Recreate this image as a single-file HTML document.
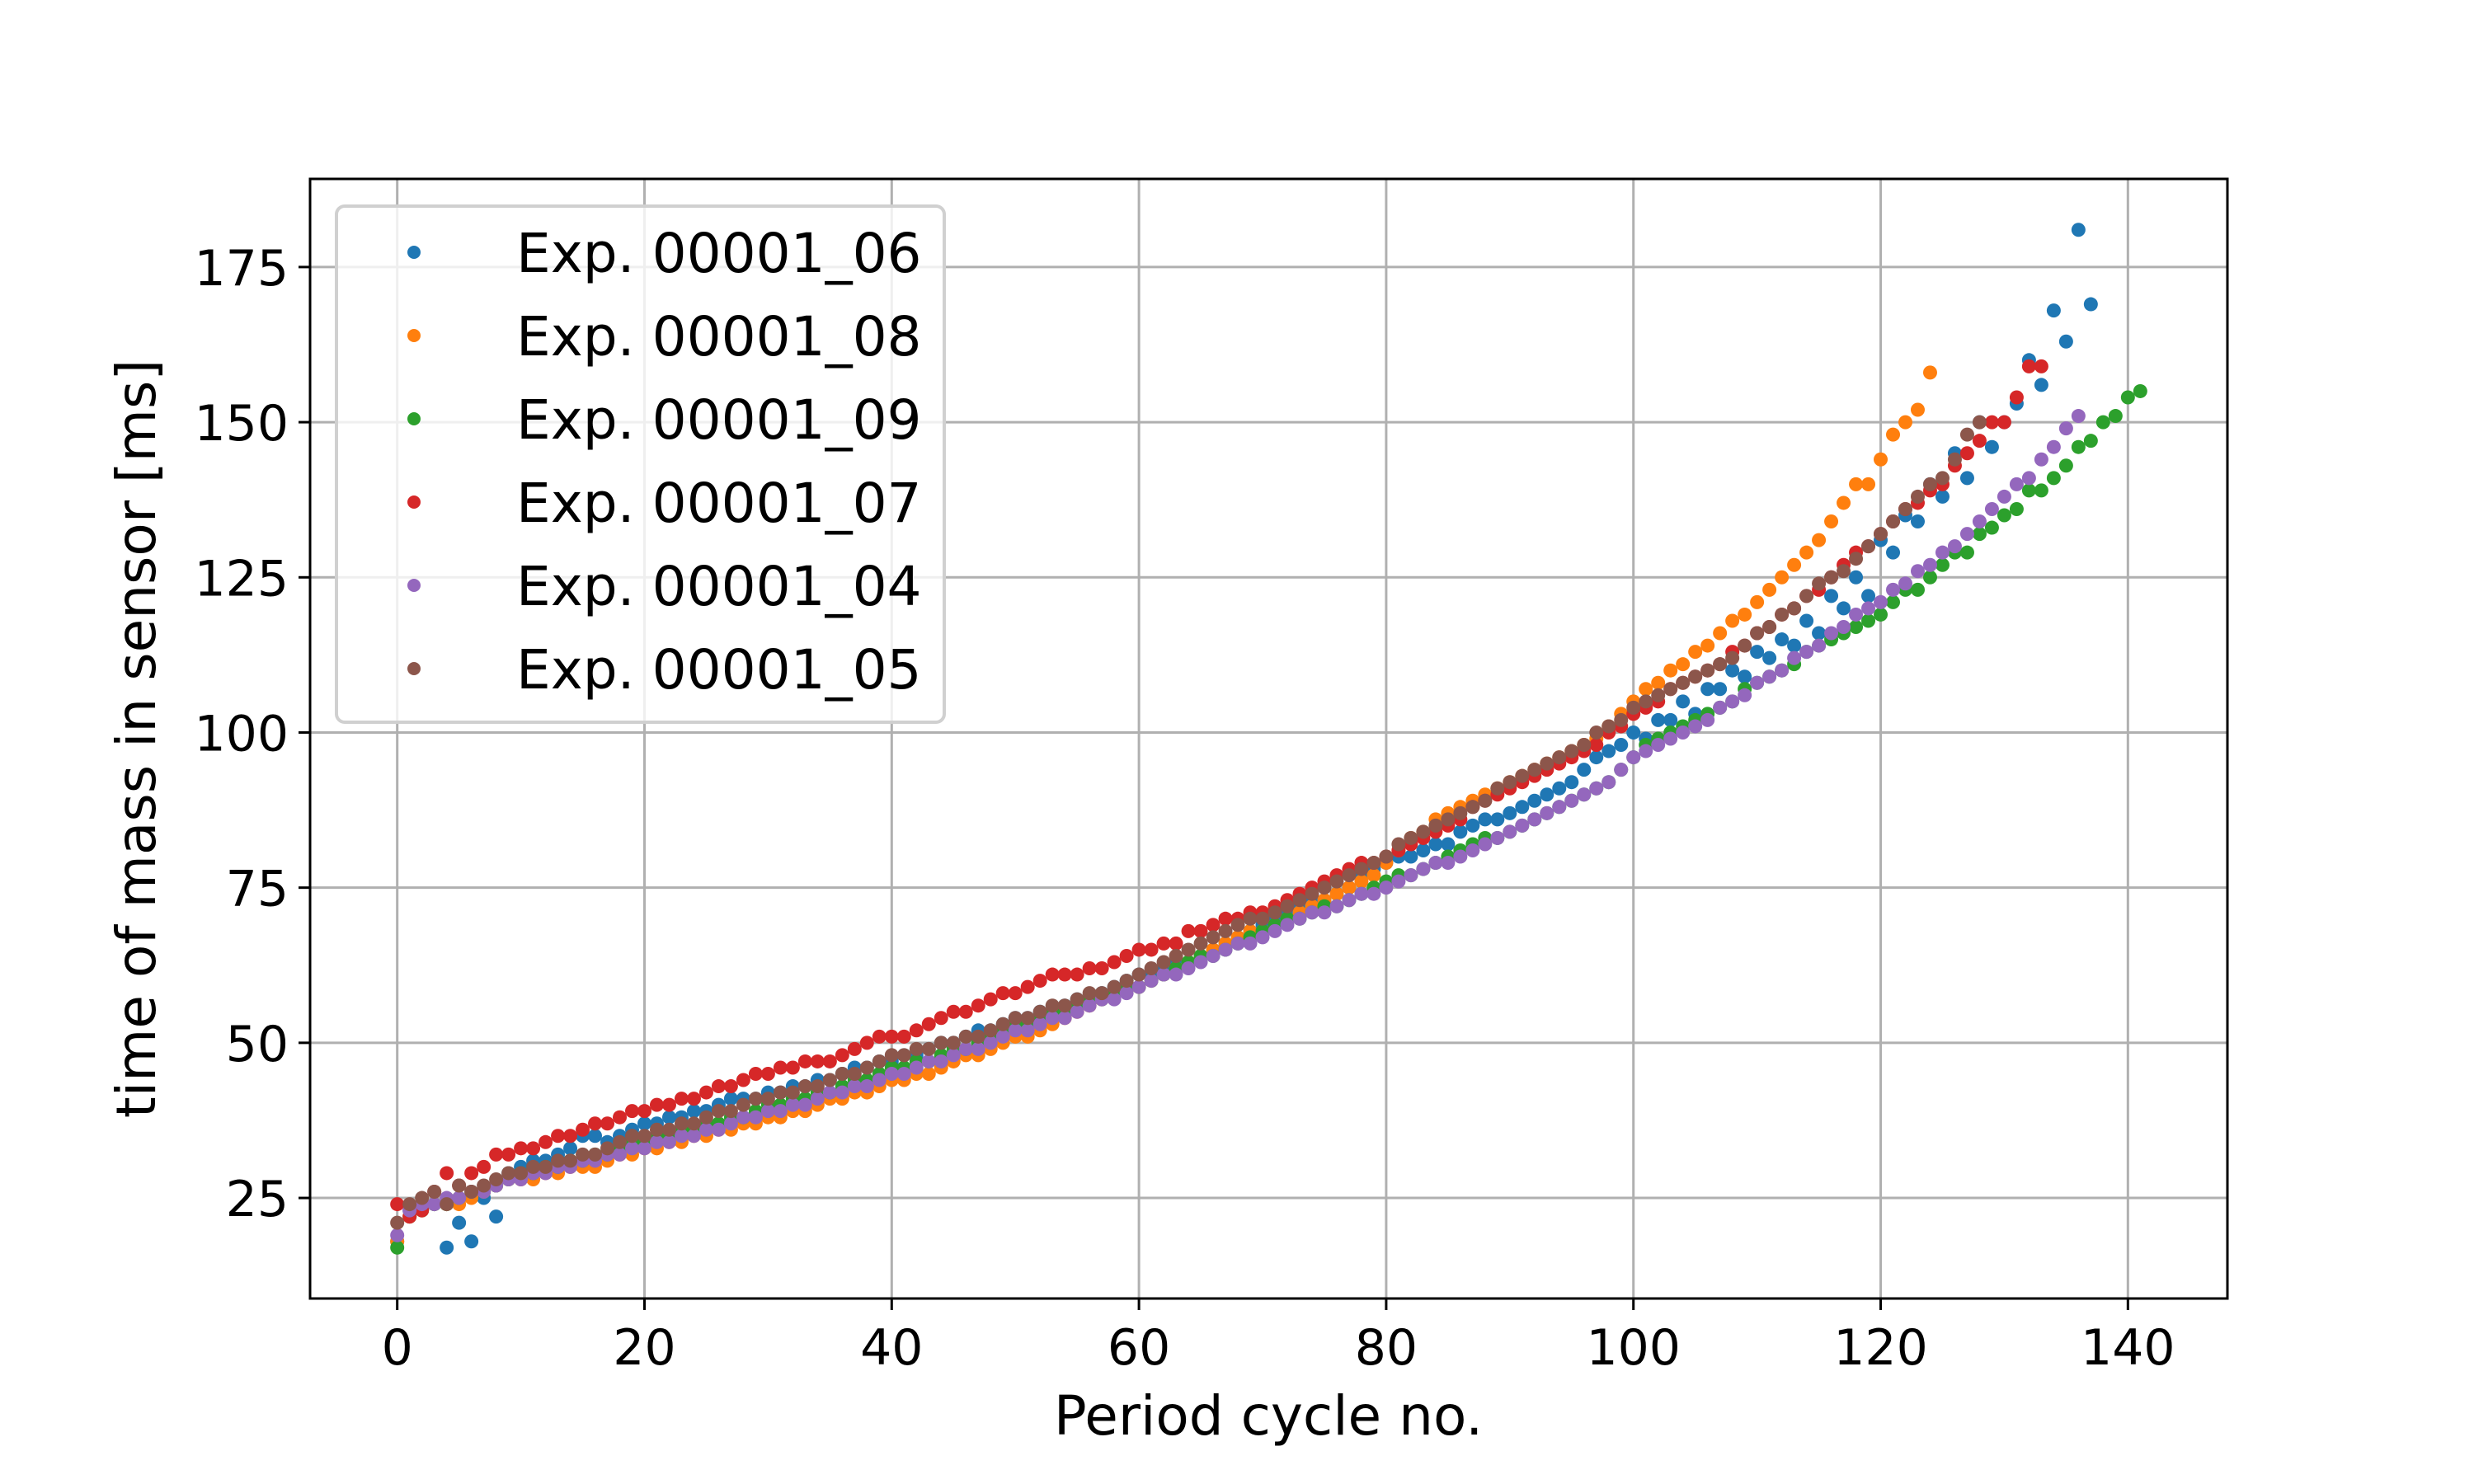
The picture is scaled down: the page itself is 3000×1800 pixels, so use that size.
<!DOCTYPE html>
<html><head><meta charset="utf-8"><style>
html,body{margin:0;padding:0;background:#fff;}
svg{display:block;font-family:"DejaVu Sans","Liberation Sans",sans-serif;}
</style></head><body>
<svg id="chart" width="3000" height="1800" viewBox="0 0 3000 1800" xmlns="http://www.w3.org/2000/svg">
<rect x="0" y="0" width="3000" height="1800" fill="#fff"/>
<g id="grid"></g>
<g id="marks"></g>
<g id="axes"></g>
<g id="legend"></g>
<text x="1538" y="1740" font-size="66" text-anchor="middle">Period cycle no.</text>
<text transform="translate(188,896) rotate(-90)" font-size="66" text-anchor="middle">time of mass in sensor [ms]</text>
</svg>
<script>
const xTicks=[0,20,40,60,80,100,120,140];
const yTicks=[25,50,75,100,125,150,175];
const seriesNames=["Exp. 00001_06","Exp. 00001_08","Exp. 00001_09","Exp. 00001_07","Exp. 00001_04","Exp. 00001_05"];
const seriesColors=["#1f77b4","#ff7f0e","#2ca02c","#d62728","#9467bd","#8c564b"];
const exp06=[18,23,24,24,17,21,18,25,22,29,30,31,31,32,33,35,35,34,35,36,37,37,38,38,39,39,40,41,41,41,42,42,43,43,44,44,45,46,46,47,47,48,48,49,50,50,51,52,52,53,54,54,55,55,56,57,57,58,59,60,61,61,62,63,63,64,65,66,67,68,69,70,71,72,73,73,74,75,77,78,79,80,80,81,82,82,84,85,86,86,87,88,89,90,91,92,94,96,97,98,100,99,102,102,105,103,107,107,110,109,113,112,115,114,118,116,122,120,125,122,131,129,135,134,140,138,145,141,150,146,150,153,160,156,168,163,181,169];
const exp08=[18,22,23,24,24,24,25,26,27,28,28,28,29,29,30,30,30,31,32,32,33,33,34,34,35,35,36,36,37,37,38,38,39,39,40,41,41,42,42,43,44,44,45,45,46,47,48,48,49,50,51,51,52,53,54,55,56,57,58,59,59,60,61,62,63,64,65,66,67,68,68,69,70,71,72,73,74,75,76,77,79,81,83,84,86,87,88,89,90,91,92,93,94,95,96,97,98,99,101,103,105,107,108,110,111,113,114,116,118,119,121,123,125,127,129,131,134,137,140,140,144,148,150,152,158];
const exp09=[17,22,23,24,24,25,26,26,27,28,29,29,30,30,31,31,32,32,33,34,34,35,35,36,36,37,37,38,38,39,40,40,41,41,42,42,43,44,44,45,46,46,47,47,48,49,49,50,51,52,53,53,54,55,55,56,57,57,58,59,59,60,61,62,63,64,64,65,66,67,68,69,70,70,71,72,72,73,74,75,76,77,77,78,79,80,81,82,83,83,84,85,86,87,88,89,90,91,92,94,96,98,99,100,101,102,103,104,105,107,108,109,110,111,113,114,115,116,117,118,119,121,123,123,125,127,129,129,132,133,135,136,139,139,141,143,146,147,150,151,154,155];
const exp07=[24,22,23,26,29,27,29,30,32,32,33,33,34,35,35,36,37,37,38,39,39,40,40,41,41,42,43,43,44,45,45,46,46,47,47,47,48,49,50,51,51,51,52,53,54,55,55,56,57,58,58,59,60,61,61,61,62,62,63,64,65,65,66,66,68,68,69,70,70,71,71,72,73,74,75,76,77,78,79,79,80,81,82,83,84,85,86,88,89,90,91,92,93,94,95,96,97,98,100,101,103,104,105,107,108,109,110,111,113,114,116,117,119,120,122,123,125,127,129,130,132,134,136,137,139,140,143,145,147,150,150,154,159,159];
const exp04=[19,23,24,24,25,25,26,26,27,28,28,29,29,30,30,31,31,32,32,33,33,34,34,35,35,36,36,37,38,38,39,39,40,40,41,42,42,43,43,44,45,45,46,47,47,48,49,49,50,51,52,52,53,54,54,55,56,57,57,58,59,60,61,61,62,63,64,65,66,66,67,68,69,70,71,71,72,73,74,74,75,76,77,78,79,79,80,81,82,83,84,85,86,87,88,89,90,91,92,94,96,97,98,99,100,101,102,104,105,106,108,109,110,112,113,114,116,117,119,120,121,123,124,126,127,129,130,132,134,136,138,140,141,144,146,149,151];
const exp05=[21,24,25,26,24,27,26,27,28,29,29,30,30,31,31,32,32,33,34,35,35,36,36,37,37,38,39,39,40,41,41,42,42,43,43,44,45,45,46,47,48,48,49,49,50,50,51,51,52,53,54,54,55,56,56,57,58,58,59,60,61,62,63,64,65,66,67,68,69,70,70,71,72,73,74,75,76,77,78,79,80,82,83,84,85,86,87,88,89,91,92,93,94,95,96,97,98,100,101,102,104,105,106,107,108,109,110,111,112,114,116,117,119,120,122,124,125,126,128,130,132,134,136,138,140,141,144,148,150];
const allSeries=[exp06,exp08,exp09,exp07,exp04,exp05];

const L=376,R=2701,T=217,B=1575;
const xMin=-7.05,xMax=148.05,yMin=8.8,yMax=189.2;
const sx=v=>L+(v-xMin)/(xMax-xMin)*(R-L);
const sy=v=>B-(v-yMin)/(yMax-yMin)*(B-T);
const NS="http://www.w3.org/2000/svg";
function mk(tag,attrs,parent){const e=document.createElementNS(NS,tag);for(const k in attrs)e.setAttribute(k,attrs[k]);parent.appendChild(e);return e;}
const grid=document.getElementById('grid'),marks=document.getElementById('marks'),axes=document.getElementById('axes'),legend=document.getElementById('legend');
xTicks.forEach(t=>{
  const g=mk('line',{x1:sx(t),x2:sx(t),y1:T,y2:B,stroke:'#b0b0b0','stroke-width':3},grid);
  
  
  const tk=mk('line',{x1:sx(t),x2:sx(t),y1:B,y2:B+14,stroke:'#000','stroke-width':3},axes);
  
  
  const tx=mk('text',{x:sx(t),y:B+80,'font-size':60,'text-anchor':'middle'},axes);
  tx.textContent=t;
  
  
});
yTicks.forEach(t=>{
  const g=mk('line',{x1:L,x2:R,y1:sy(t),y2:sy(t),stroke:'#b0b0b0','stroke-width':3},grid);
  
  
  const tk=mk('line',{x1:L-14,x2:L,y1:sy(t),y2:sy(t),stroke:'#000','stroke-width':3},axes);
  
  
  const tx=mk('text',{x:L-26,y:sy(t)+22,'font-size':60,'text-anchor':'end'},axes);
  tx.textContent=t;
  
  
});
allSeries.forEach((vals,si)=>{
  const g=mk('g',{fill:seriesColors[si]},marks);
  
  
  vals.forEach((v,i)=>{
    const c=mk('circle',{cx:sx(i),cy:sy(v),r:8.5},g);
    
    
  });
});
const frame=mk('rect',{x:L,y:T,width:R-L,height:B-T,fill:'none',stroke:'#000','stroke-width':3},axes);


const box=mk('rect',{x:408,y:250,width:737,height:626,rx:10,fill:'#fff','fill-opacity':0.8,stroke:'#d0d0d0','stroke-width':4},legend);


seriesNames.forEach((n,i)=>{
  const y=306+i*101;
  const g=mk('g',{},legend);
  
  
  const c=mk('circle',{cx:502,cy:y,r:8,fill:seriesColors[i]},g);
  
  
  const t=mk('text',{x:626,y:y+24,'font-size':66},g);
  t.textContent=n;
  
  
});
</script>
</body></html>
